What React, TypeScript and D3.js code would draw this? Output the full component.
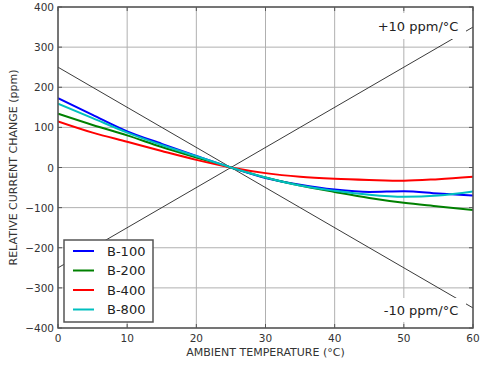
import React from "react";
import * as d3 from "d3";

// temperatures (°C) where the curves were read
const temps = [0, 5, 10, 15, 20, 25, 30, 35, 40, 45, 50, 55, 60];

const b100 = [173, 131, 90, 59, 29, 0, -26, -43, -55, -61, -59, -65, -70];
const b200 = [134, 106, 80, 51, 25, 0, -25, -45, -61, -76, -88, -97, -106];
const b400 = [115, 87, 64, 41, 19, 0, -14, -23, -28, -31, -33, -29, -23];
const b800 = [159, 123, 87, 56, 28, 0, -25, -45, -58, -68, -73, -70, -60];

const seriesNames = ["B-100", "B-200", "B-400", "B-800"];
const seriesColors = ["#0000ff", "#008000", "#ff0000", "#00bfbf"];
const seriesValues = [b100, b200, b400, b800];

const xTicks = [0, 10, 20, 30, 40, 50, 60];
const yTicks = [-400, -300, -200, -100, 0, 100, 200, 300, 400];

// reference slopes through 25 °C
const refLines = [
  { label: "+10 ppm/°C", slope: 10 },
  { label: "-10 ppm/°C", slope: -10 },
];

const W = 492;
const H = 369;
const margin = { top: 7, right: 19, bottom: 41, left: 58 };
const font = "'DejaVu Sans', sans-serif";

export default function App() {
  const x = d3.scaleLinear().domain([0, 60]).range([margin.left, W - margin.right]);
  const y = d3.scaleLinear().domain([-400, 400]).range([H - margin.bottom, margin.top]);

  const line = d3
    .line<[number, number]>()
    .x((d) => x(d[0]))
    .y((d) => y(d[1]))
    .curve(d3.curveMonotoneX);

  const x0 = margin.left;
  const x1 = W - margin.right;
  const y0 = margin.top;
  const y1 = H - margin.bottom;

  // label boxes near the right end of each reference line (they hide the line)
  const labelBox = [
    { x: 372, y: 13, w: 94, h: 26 },
    { x: 378, y: 298, w: 88, h: 24 },
  ];

  return (
    <svg
      width={W}
      height={H}
      style={{ position: "absolute", left: 0, top: 0, background: "#fff" }}
      fontFamily={font}
    >
      <defs>
        <clipPath id="plot">
          <rect x={x0} y={y0} width={x1 - x0} height={y1 - y0} />
        </clipPath>
      </defs>

      {/* grid */}
      {xTicks.map((t) => (
        <line key={"gx" + t} x1={x(t)} x2={x(t)} y1={y0} y2={y1} stroke="#b0b0b0" strokeWidth={1} />
      ))}
      {yTicks.map((t) => (
        <line key={"gy" + t} x1={x0} x2={x1} y1={y(t)} y2={y(t)} stroke="#b0b0b0" strokeWidth={1} />
      ))}

      <g clipPath="url(#plot)">
        {/* reference lines */}
        {refLines.map((r) => (
          <line
            key={r.label}
            x1={x(0)}
            y1={y(r.slope * (0 - 25))}
            x2={x(60)}
            y2={y(r.slope * (60 - 25))}
            stroke="#3a3a3a"
            strokeWidth={1}
          />
        ))}

        {/* data */}
        {seriesValues.map((vals, i) => (
          <path
            key={seriesNames[i]}
            d={line(temps.map((t, j) => [t, vals[j]] as [number, number])) || ""}
            fill="none"
            stroke={seriesColors[i]}
            strokeWidth={2}
          />
        ))}
      </g>

      {/* reference labels with white boxes */}
      {refLines.map((r, i) => {
        const b = labelBox[i];
        return (
          <g key={"lab" + r.label}>
            <rect x={b.x} y={b.y} width={b.w} height={b.h} fill="#fff" />
            <text
              x={b.x + b.w / 2 - 1}
              y={b.y + b.h / 2}
              textAnchor="middle"
              dominantBaseline="central"
              fontSize={13}
              fill="#222"
            >
              {r.label}
            </text>
          </g>
        );
      })}

      {/* ticks */}
      {xTicks.map((t) => (
        <g key={"tx" + t}>
          <line x1={x(t)} x2={x(t)} y1={y1} y2={y1 - 4} stroke="#555" />
          <line x1={x(t)} x2={x(t)} y1={y0} y2={y0 + 4} stroke="#555" />
          <text x={x(t)} y={y1 + 10} textAnchor="middle" dominantBaseline="central" fontSize={10.5} fill="#333">
            {t}
          </text>
        </g>
      ))}
      {yTicks.map((t) => (
        <g key={"ty" + t}>
          <line x1={x0} x2={x0 + 4} y1={y(t)} y2={y(t)} stroke="#555" />
          <line x1={x1} x2={x1 - 4} y1={y(t)} y2={y(t)} stroke="#555" />
          <text x={x0 - 4} y={y(t)} textAnchor="end" dominantBaseline="central" fontSize={10.5} fill="#333">
            {d3.format("")(t).replace("-", "\u2212")}
          </text>
        </g>
      ))}

      {/* frame */}
      <rect x={x0} y={y0} width={x1 - x0} height={y1 - y0} fill="none" stroke="#555" strokeWidth={1.5} />

      {/* axis titles */}
      <text x={(x0 + x1) / 2} y={352} textAnchor="middle" dominantBaseline="central" fontSize={11} fill="#333">
        AMBIENT TEMPERATURE (°C)
      </text>
      <text
        transform={`translate(13,${(y0 + y1) / 2}) rotate(-90)`}
        textAnchor="middle"
        dominantBaseline="central"
        fontSize={11}
        fill="#333"
      >
        RELATIVE CURRENT CHANGE (ppm)
      </text>

      {/* legend */}
      <g>
        <rect x={64} y={240} width={89} height={82} fill="#fff" stroke="#555" strokeWidth={1.5} />
        {seriesNames.map((n, i) => (
          <g key={"lg" + n}>
            <line x1={73} x2={94} y1={251 + i * 19.5} y2={251 + i * 19.5} stroke={seriesColors[i]} strokeWidth={2} />
            <text x={107} y={251 + i * 19.5} dominantBaseline="central" fontSize={13} fill="#222">
              {n}
            </text>
          </g>
        ))}
      </g>
    </svg>
  );
}
